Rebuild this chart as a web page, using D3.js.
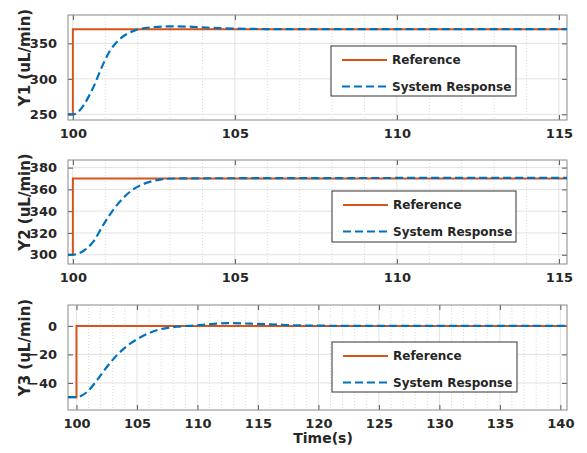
<!DOCTYPE html>
<html><head><meta charset="utf-8">
<script src="https://cdn.jsdelivr.net/npm/d3@7"></script>
<style>body{margin:0;background:#fff}svg{display:block}text{font-family:"DejaVu Sans",Verdana,sans-serif;font-weight:bold;fill:#262626}</style>
</head><body><svg id="c" width="587" height="453"></svg>
<script>
// ---------- data ----------
const seriesNames = ["Reference", "System Response"];

const refT1 = [99.85, 100.0, 100.0, 115.25];
const refY1 = [250, 250, 370, 370];
const respT1 = [99.85, 100.0, 100.1, 100.2, 100.35, 100.5, 100.7, 100.85, 101.0, 101.15, 101.3, 101.5, 101.7, 101.9, 102.1, 102.4, 102.8, 103.2, 103.6, 104.0, 104.5, 105.0, 106, 108, 110, 115.25];
const respY1 = [250, 250, 251, 255, 264, 276, 295, 312, 327, 340, 349, 358, 364, 368, 370.5, 372.5, 373.8, 374, 373.5, 372.5, 371.5, 370.8, 370.2, 370, 370, 370];

const refT2 = [99.85, 100.0, 100.0, 115.25];
const refY2 = [300, 300, 370, 370];
const respT2 = [99.85, 100.0, 100.1, 100.3, 100.63, 100.94, 101.24, 101.55, 101.86, 102.27, 102.69, 103.1, 104, 106, 110, 115.25];
const respY2 = [300, 300, 300.5, 303, 312, 327.5, 341, 352, 360, 366, 369, 370, 370.2, 370.3, 370.5, 370.6];

const refT3 = [99.3, 100.0, 100.0, 140.55];
const refY3 = [-50, -50, 0, 0];
const respT3 = [99.3, 100.05, 100.4, 100.88, 101.71, 102.54, 103.36, 104.19, 105.0, 105.85, 106.94, 108.32, 109.7, 111.35, 112.45, 114.4, 117.1, 119, 122, 130, 140.55];
const respY3 = [-50, -50, -49, -46.3, -37.9, -28.5, -20.4, -14, -9.4, -5.6, -2.3, -0.5, 0.3, 1.4, 2, 1.6, 0.7, 0.3, 0.1, 0, 0];

const xTicks12 = [100, 105, 110, 115];
const xTicks3 = [100, 105, 110, 115, 120, 125, 130, 135, 140];
const yTicks1 = [250, 300, 350];
const yTicks2 = [300, 320, 340, 360, 380];
const yTicks3 = [0, -20, -40];
const yLabels = ["Y1 (uL/min)", "Y2 (uL/min)", "Y3 (uL/min)"];
const xLabel = "Time(s)";

// ---------- layout ----------
const colors = {ref: "#D95319", resp: "#0072BD"};
const L = 68, R = 567;
const panels = [
  {top: 15, bot: 120, xd: [99.85, 115.25], yd: [242, 390], xt: xTicks12, yt: yTicks1, rt: refT1, ry: refY1, st: respT1, sy: respY1, lab: yLabels[0], leg: [331, 46, 516, 96]},
  {top: 160, bot: 264, xd: [99.85, 115.25], yd: [291.5, 387], xt: xTicks12, yt: yTicks2, rt: refT2, ry: refY2, st: respT2, sy: respY2, lab: yLabels[1], leg: [332, 191, 516, 242]},
  {top: 305, bot: 410, xd: [99.3, 140.55], yd: [-59, 14.7], xt: xTicks3, yt: yTicks3, rt: refT3, ry: refY3, st: respT3, sy: respY3, lab: yLabels[2], leg: [332, 342, 517, 392]}
];

const svg = d3.select("#c");

panels.forEach((p, i) => {
  const x = d3.scaleLinear().domain(p.xd).range([L, R]);
  const y = d3.scaleLinear().domain(p.yd).range([p.bot, p.top]);
  const g = svg.append("g");
  g.append("defs").append("clipPath").attr("id", "clip" + i)
    .append("rect").attr("x", L).attr("y", p.top).attr("width", R - L).attr("height", p.bot - p.top);

  // minor x grid (dotted)
  const minor = d3.range(Math.ceil(p.xd[0]), Math.floor(p.xd[1]) + 1).filter(v => v % 5 !== 0);
  g.selectAll(".mg").data(minor).enter().append("line")
    .attr("x1", d => x(d)).attr("x2", d => x(d)).attr("y1", p.top).attr("y2", p.bot)
    .attr("stroke", "#cfcfcf").attr("stroke-width", 0.8).attr("stroke-dasharray", "1,2");
  // major grid
  g.selectAll(".gx").data(p.xt).enter().append("line")
    .attr("x1", d => x(d)).attr("x2", d => x(d)).attr("y1", p.top).attr("y2", p.bot)
    .attr("stroke", "#e2e2e2").attr("stroke-width", 1);
  g.selectAll(".gy").data(p.yt).enter().append("line")
    .attr("x1", L).attr("x2", R).attr("y1", d => y(d)).attr("y2", d => y(d))
    .attr("stroke", "#e2e2e2").attr("stroke-width", 1);

  // axes with inward ticks
  const axB = d3.axisBottom(x).tickValues(p.xt).tickSize(-5).tickPadding(9).tickFormat(d3.format("d"));
  const axT = d3.axisTop(x).tickValues(p.xt).tickSize(-5).tickFormat("");
  const axL = d3.axisLeft(y).tickValues(p.yt).tickSize(-5).tickPadding(11).tickFormat(d3.format("d"));
  const axR = d3.axisRight(y).tickValues(p.yt).tickSize(-5).tickFormat("");
  [[axB, `translate(0,${p.bot})`], [axT, `translate(0,${p.top})`], [axL, `translate(${L},0)`], [axR, `translate(${R},0)`]].forEach(([ax, tr]) => {
    const a = g.append("g").attr("transform", tr).call(ax);
    a.select(".domain").remove();
    a.selectAll("line").attr("stroke", "#555");
    a.selectAll("text").style("font-size", "13px").attr("fill", "#262626");
  });
  g.append("rect").attr("x", L).attr("y", p.top).attr("width", R - L).attr("height", p.bot - p.top)
    .attr("fill", "none").attr("stroke", "#8a8a8a").attr("stroke-width", 1);

  // lines
  const line = d3.line().x(d => x(d[0])).y(d => y(d[1]));
  const cg = g.append("g").attr("clip-path", `url(#clip${i})`);
  cg.append("path").datum(d3.zip(p.rt, p.ry)).attr("d", line)
    .attr("fill", "none").attr("stroke", colors.ref).attr("stroke-width", 2);
  cg.append("path").datum(d3.zip(p.st, p.sy)).attr("d", line.curve(d3.curveMonotoneX))
    .attr("fill", "none").attr("stroke", colors.resp).attr("stroke-width", 2.2).attr("stroke-dasharray", "8,4");

  // y label
  const cy = (p.top + p.bot) / 2 - 10;
  g.append("text").attr("transform", `translate(25,${cy}) rotate(-90)`)
    .attr("text-anchor", "middle").attr("dy", "0.35em").style("font-size", "15px").text(p.lab);

  // legend
  const [lx0, ly0, lx1, ly1] = p.leg;
  const lg = g.append("g");
  lg.append("rect").attr("x", lx0).attr("y", ly0).attr("width", lx1 - lx0).attr("height", ly1 - ly0)
    .attr("fill", "#fff").attr("stroke", "#333").attr("stroke-width", 1);
  const rows = [ly0 + 14, ly0 + 40.5];
  seriesNames.forEach((nm, k) => {
    lg.append("line").attr("x1", lx0 + 11).attr("x2", lx0 + 56).attr("y1", rows[k]).attr("y2", rows[k])
      .attr("stroke", k === 0 ? colors.ref : colors.resp).attr("stroke-width", 2)
      .attr("stroke-dasharray", k === 0 ? null : "8,4");
    lg.append("text").attr("x", lx0 + 61).attr("y", rows[k]).attr("dy", "0.35em")
      .style("font-size", "12px").text(nm);
  });
});

svg.append("text").attr("x", 323).attr("y", 443).attr("text-anchor", "middle")
  .style("font-size", "14px").text(xLabel);
</script></body></html>
